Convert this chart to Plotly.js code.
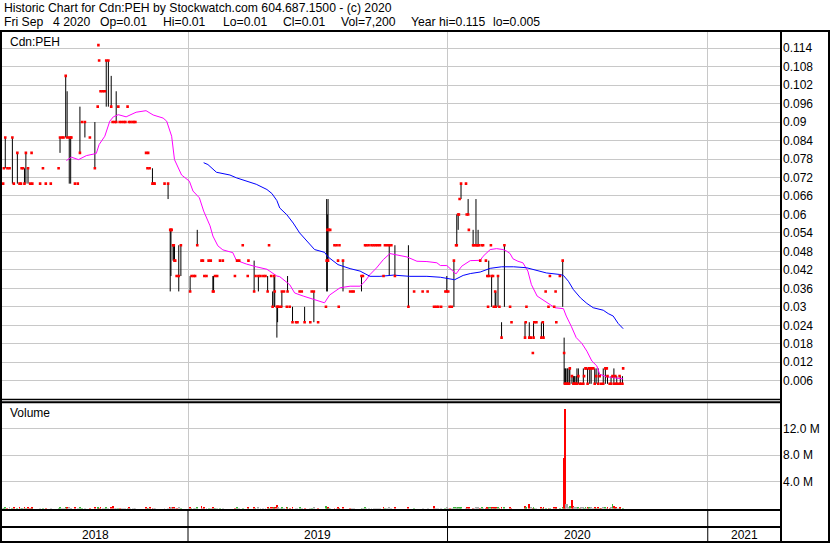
<!DOCTYPE html>
<html><head><meta charset="utf-8">
<script src="https://cdn.plot.ly/plotly-3.0.1.min.js"></script>
<style>html,body{margin:0;padding:0;background:#fff;}#chart{width:830px;height:543px;}</style>
</head><body><div id="chart"></div>
<script>
// ---------- DATA ----------
const dates = [
'2018-04-16','2018-04-17','2018-04-19','2018-04-22','2018-04-25','2018-04-29','2018-05-01','2018-05-06','2018-05-09','2018-05-11',
'2018-05-12','2018-05-14','2018-05-16','2018-05-18','2018-05-21','2018-05-24','2018-05-26','2018-05-27','2018-06-07','2018-06-11',
'2018-06-15','2018-06-22','2018-07-03','2018-07-05','2018-07-08','2018-07-10','2018-07-13','2018-07-15','2018-07-18','2018-07-20',
'2018-07-21','2018-07-26','2018-07-30','2018-08-02','2018-08-05','2018-08-09','2018-08-16','2018-08-23','2018-08-27','2018-08-28',
'2018-08-29','2018-08-31','2018-09-03','2018-09-06','2018-09-08','2018-09-11','2018-09-15','2018-09-17','2018-09-20','2018-09-22',
'2018-09-25','2018-09-27','2018-09-30','2018-10-03','2018-10-05','2018-10-08','2018-10-10','2018-10-12','2018-10-15','2018-10-17',
'2018-10-19','2018-11-03','2018-11-05','2018-11-06','2018-11-08','2018-11-12','2018-11-14','2018-11-15','2018-11-29','2018-12-04',
'2018-12-07','2018-12-08','2018-12-09','2018-12-11','2018-12-12','2018-12-13','2018-12-14','2018-12-16','2018-12-19','2018-12-22',
'2019-01-04','2019-01-06','2019-01-09','2019-01-11','2019-01-14','2019-01-20','2019-01-22','2019-01-24','2019-01-27','2019-01-30',
'2019-02-02','2019-02-05','2019-02-06','2019-02-08','2019-02-11','2019-02-15','2019-02-19','2019-03-08','2019-03-11','2019-03-14',
'2019-03-19','2019-03-26','2019-03-27','2019-04-04','2019-04-06','2019-04-10','2019-04-13','2019-04-17','2019-04-20','2019-04-23',
'2019-04-25','2019-04-28','2019-04-30','2019-05-02','2019-05-03','2019-05-06','2019-05-07','2019-05-09','2019-05-12','2019-05-13',
'2019-05-16','2019-05-20','2019-05-21','2019-05-24','2019-05-28','2019-06-02','2019-06-04','2019-06-07','2019-06-10','2019-06-14',
'2019-06-22','2019-06-24','2019-06-27','2019-07-03','2019-07-14','2019-07-15','2019-07-16','2019-07-17','2019-07-18','2019-07-20',
'2019-07-26','2019-07-29','2019-07-31','2019-08-01','2019-08-02','2019-08-07','2019-08-17','2019-08-20','2019-08-22','2019-09-02',
'2019-09-04','2019-09-07','2019-09-09','2019-09-12','2019-09-16','2019-09-19','2019-09-22','2019-09-25','2019-09-28','2019-10-03',
'2019-10-05','2019-10-08','2019-10-11','2019-10-14','2019-10-19','2019-11-07','2019-11-15','2019-11-27','2019-12-04','2019-12-13',
'2019-12-16','2019-12-19','2019-12-23','2019-12-29','2019-12-31','2020-01-02','2020-01-04','2020-01-07','2020-01-10','2020-01-13',
'2020-01-14','2020-01-16','2020-01-17','2020-01-18','2020-01-20','2020-01-27','2020-01-28','2020-01-30','2020-01-31','2020-02-06',
'2020-02-07','2020-02-10','2020-02-11','2020-02-13','2020-02-14','2020-02-16','2020-02-18','2020-02-20','2020-02-24','2020-02-26',
'2020-02-27','2020-02-28','2020-03-02','2020-03-03','2020-03-05','2020-03-06','2020-03-08','2020-03-09','2020-03-12','2020-03-14',
'2020-03-17','2020-03-21','2020-03-29','2020-03-31','2020-04-19','2020-04-20','2020-04-21','2020-04-25','2020-04-27','2020-04-30',
'2020-05-01','2020-05-02','2020-05-05','2020-05-12','2020-05-14','2020-05-15','2020-05-18','2020-05-22','2020-05-24','2020-05-30',
'2020-06-01','2020-06-02','2020-06-07','2020-06-11','2020-06-13','2020-06-14','2020-06-15','2020-06-17','2020-06-18','2020-06-20',
'2020-06-21','2020-06-24','2020-06-26','2020-06-27','2020-06-28','2020-06-30','2020-07-01','2020-07-03','2020-07-05','2020-07-07',
'2020-07-10','2020-07-11','2020-07-13','2020-07-14','2020-07-16','2020-07-18','2020-07-19','2020-07-21','2020-07-24','2020-07-26',
'2020-07-28','2020-07-31','2020-08-02','2020-08-04','2020-08-07','2020-08-10','2020-08-12','2020-08-13','2020-08-16','2020-08-18',
'2020-08-20','2020-08-22','2020-08-24','2020-08-25','2020-08-26','2020-08-29','2020-08-30','2020-08-31','2020-09-03','2020-09-04'];

const highs = [
.07,.075,.085,.075,.075,.085,.07,.08,.07,.07,
.075,.075,.075,.08,.075,.07,.08,.07,.07,.075,
.07,.07,.075,.085,.085,.085,.105,.10,.085,.085,
.085,.07,.07,.095,.09,.09,.085,.09,.095,.115,
.11,.10,.10,.10,.11,.11,.105,.09,.09,.10,
.095,.09,.09,.09,.09,.095,.09,.09,.09,.09,
.09,.08,.075,.08,.075,.075,.07,.07,.07,.07,
.055,.055,.055,.05,.05,.05,.045,.04,.05,.05,
.04,.04,.04,.04,.055,.045,.045,.04,.04,.045,
.045,.04,.04,.04,.04,.045,.045,.04,.045,.045,
.05,.04,.045,.045,.04,.04,.04,.04,.04,.04,
.05,.04,.035,.04,.04,.03,.03,.03,.03,.035,
.035,.03,.04,.03,.03,.025,.025,.035,.035,.03,
.025,.035,.035,.025,.03,.065,.06,.065,.055,.055,
.05,.05,.045,.03,.05,.045,.035,.035,.035,.04,
.04,.05,.05,.05,.05,.05,.05,.05,.05,.04,
.05,.05,.05,.05,.05,.05,.035,.035,.035,.03,
.03,.03,.03,.035,.04,.035,.03,.03,.045,.05,
.06,.06,.06,.065,.07,.07,.06,.065,.055,.055,
.05,.065,.05,.055,.05,.045,.05,.05,.045,.04,
.03,.045,.05,.04,.04,.03,.035,.035,.04,.03,
.025,.05,.03,.025,.025,.025,.03,.025,.02,.015,
.025,.025,.025,.025,.025,.025,.035,.03,.04,.03,
.035,.025,.04,.045,.02,.01,.01,.01,.01,.01,
.01,.0075,.0075,.0075,.0075,.0075,.01,.01,.005,.005,
.01,.0075,.01,.01,.01,.01,.01,.01,.01,.01,
.01,.01,.0075,.005,.01,.01,.01,.0075,.005,.0075,
.0075,.01,.0075,.005,.0075,.005,.0075,.0075,.0075,.01];

const lows = [
.07,.075,.075,.075,.075,.07,.07,.07,.07,.07,
.075,.075,.07,.07,.07,.07,.08,.07,.07,.075,
.07,.07,.075,.08,.085,.085,.085,.085,.07,.07,
.085,.07,.07,.08,.09,.085,.085,.075,.095,.115,
.11,.10,.10,.10,.095,.095,.095,.09,.09,.09,
.095,.09,.09,.09,.09,.095,.09,.09,.09,.09,
.09,.08,.075,.08,.075,.07,.07,.07,.07,.065,
.035,.04,.055,.045,.045,.045,.045,.04,.035,.04,
.035,.04,.04,.04,.05,.045,.045,.04,.04,.045,
.045,.035,.035,.04,.04,.045,.045,.04,.045,.045,
.05,.04,.045,.035,.04,.035,.04,.04,.04,.035,
.05,.04,.03,.03,.03,.02,.025,.03,.03,.03,
.035,.03,.035,.03,.025,.025,.025,.035,.035,.025,
.025,.035,.025,.025,.03,.035,.035,.045,.055,.055,
.05,.05,.045,.03,.05,.035,.035,.035,.035,.035,
.04,.05,.05,.05,.05,.05,.05,.05,.05,.04,
.05,.05,.04,.05,.04,.03,.035,.035,.035,.03,
.03,.03,.03,.035,.035,.035,.03,.03,.03,.05,
.05,.055,.06,.065,.065,.07,.06,.06,.055,.05,
.05,.05,.05,.05,.05,.045,.05,.05,.045,.04,
.03,.04,.05,.03,.04,.03,.03,.03,.03,.03,
.02,.03,.03,.025,.02,.025,.03,.02,.02,.015,
.02,.025,.025,.02,.025,.02,.035,.03,.04,.03,
.035,.025,.04,.03,.005,.005,.005,.005,.005,.005,
.005,.005,.005,.005,.005,.005,.005,.005,.005,.005,
.005,.0075,.01,.01,.005,.01,.005,.005,.01,.005,
.005,.005,.0075,.005,.005,.005,.01,.005,.005,.005,
.0075,.005,.0075,.005,.005,.005,.0075,.005,.005,.01];

const closes = [
.07,.075,.085,.075,.075,.085,.07,.08,.07,.07,
.075,.075,.07,.08,.075,.07,.08,.07,.07,.075,
.07,.07,.075,.085,.085,.085,.105,.085,.085,.085,
.085,.07,.07,.08,.09,.09,.085,.075,.095,.115,
.11,.10,.10,.10,.11,.11,.095,.09,.09,.09,
.095,.09,.09,.09,.09,.095,.09,.09,.09,.09,
.09,.08,.075,.08,.075,.07,.07,.07,.07,.07,
.055,.055,.055,.05,.05,.045,.045,.04,.04,.05,
.035,.04,.04,.04,.05,.045,.045,.04,.04,.045,
.045,.035,.035,.04,.04,.045,.045,.04,.045,.045,
.05,.04,.045,.035,.04,.04,.04,.04,.04,.035,
.05,.04,.03,.04,.035,.03,.03,.03,.03,.035,
.035,.03,.035,.03,.025,.025,.025,.035,.035,.025,
.025,.035,.035,.025,.03,.045,.055,.045,.055,.055,
.05,.05,.045,.03,.05,.045,.035,.035,.035,.04,
.04,.05,.05,.05,.05,.05,.05,.05,.05,.04,
.05,.05,.05,.05,.04,.03,.035,.035,.035,.03,
.03,.03,.03,.035,.035,.035,.03,.03,.045,.05,
.05,.06,.06,.065,.07,.07,.06,.06,.055,.05,
.05,.05,.05,.05,.05,.045,.05,.05,.045,.04,
.03,.04,.05,.04,.04,.03,.035,.03,.04,.03,
.02,.05,.03,.025,.02,.025,.03,.02,.02,.015,
.02,.025,.025,.02,.025,.02,.035,.03,.04,.03,
.035,.025,.04,.045,.015,.005,.005,.005,.005,.005,
.01,.0075,.005,.005,.005,.005,.005,.0075,.005,.005,
.005,.0075,.01,.01,.005,.01,.01,.01,.01,.005,
.0075,.005,.0075,.005,.005,.01,.01,.0075,.005,.005,
.0075,.005,.0075,.005,.005,.005,.0075,.005,.005,.01];

// volume in thousands of shares
const volumesK = [
150,120,200,100,180,150,250,120,200,100,
150,80,200,150,250,120,100,180,100,150,
100,120,150,200,100,150,300,250,200,150,
100,200,150,250,120,150,100,200,150,250,
150,200,120,100,200,150,250,400,100,150,
120,100,150,100,120,150,200,100,120,100,
150,200,150,100,200,150,100,120,100,150,
300,250,150,200,150,200,100,150,200,150,
200,150,100,120,250,400,150,200,120,150,
100,200,150,100,120,150,100,150,200,120,
150,200,150,250,150,200,120,150,100,200,
150,200,250,200,300,500,250,150,100,200,
150,200,250,150,200,100,150,200,100,150,
100,150,200,150,350,300,250,200,150,100,
150,100,200,150,100,200,150,100,120,150,
100,200,150,100,120,150,100,120,100,200,
150,100,200,120,250,200,150,100,120,350,
150,100,120,150,200,100,150,100,250,200,
250,200,150,200,300,150,200,150,200,150,
100,250,150,200,100,150,200,100,150,200,
250,300,200,250,150,200,150,200,250,150,
300,250,200,150,450,200,250,600,200,150,
200,150,100,200,150,200,150,100,150,200,
150,200,150,300,7600,14900,700,650,250,200,
400,1300,350,250,200,150,200,250,150,200,
250,150,200,150,250,200,150,200,150,200,
150,200,150,100,200,250,150,200,150,200,
600,400,150,200,150,100,150,200,150,7.2];

// moving averages (magenta = short, blue = long)
const maShortDates = ['2018-07-14','2018-07-21','2018-07-31','2018-08-11','2018-08-25','2018-08-29','2018-09-06','2018-09-13','2018-09-18','2018-09-25',
'2018-10-06','2018-10-20','2018-11-03','2018-11-13','2018-11-27','2018-12-02','2018-12-09','2018-12-13','2018-12-23','2019-01-03',
'2019-01-08','2019-01-17','2019-01-23','2019-02-01','2019-02-05','2019-02-12','2019-02-19','2019-03-05','2019-03-10','2019-03-24',
'2019-04-07','2019-04-22','2019-05-06','2019-05-10','2019-05-24','2019-05-31','2019-06-12','2019-06-26','2019-07-12','2019-07-19',
'2019-08-03','2019-08-17','2019-08-31','2019-09-07','2019-09-14','2019-09-23','2019-10-03','2019-10-12','2019-10-22','2019-11-05',
'2019-11-19','2019-12-03','2019-12-17','2019-12-22','2019-12-31','2020-01-07','2020-01-13','2020-01-21','2020-02-02','2020-02-16',
'2020-02-20','2020-03-01','2020-03-10','2020-03-19','2020-03-24','2020-03-29','2020-04-02','2020-04-09','2020-04-16','2020-04-23',
'2020-04-28','2020-05-06','2020-05-15','2020-05-22','2020-05-31','2020-06-12','2020-06-16','2020-06-23','2020-06-30','2020-07-08',
'2020-07-15','2020-07-22','2020-07-29','2020-08-02','2020-08-12','2020-08-21','2020-09-04'];
const maShort = [.0775,.0786,.0778,.0791,.0798,.0827,.0854,.0903,.0917,.0924,
.0917,.0932,.0937,.0923,.0913,.0903,.0854,.0778,.0728,.0708,
.0676,.0654,.0611,.0563,.053,.0498,.0485,.0476,.0451,.0439,
.043,.0422,.040,.0398,.0372,.0345,.0335,.0324,.0313,.0338,
.0362,.0367,.0367,.0383,.0405,.0426,.0454,.0473,.0468,.0462,
.0448,.0447,.0443,.0434,.0434,.0419,.0407,.0432,.045,.0451,
.0464,.0486,.0489,.0486,.0481,.0473,.0456,.0448,.0443,.0416,
.0372,.0335,.0322,.0311,.0297,.0294,.027,.0237,.020,.0181,
.0156,.0124,.0108,.0081,.0073,.007,.0066];

const maLongDates = ['2019-01-23','2019-01-29','2019-02-10','2019-03-01','2019-03-10','2019-03-24','2019-04-07','2019-04-22','2019-04-29','2019-05-06',
'2019-05-10','2019-05-20','2019-05-29','2019-06-07','2019-06-17','2019-06-28','2019-07-12','2019-07-17','2019-07-31','2019-08-17',
'2019-08-31','2019-09-14','2019-09-28','2019-10-17','2019-11-09','2019-12-03','2019-12-22','2019-12-31','2020-01-11','2020-01-23',
'2020-02-02','2020-02-16','2020-03-01','2020-03-17','2020-04-03','2020-04-21','2020-05-01','2020-05-19','2020-06-07','2020-06-12',
'2020-06-19','2020-06-26','2020-07-06','2020-07-15','2020-07-24','2020-08-07','2020-08-14','2020-08-21','2020-08-28','2020-09-04'];
const maLong = [.0768,.0762,.0737,.0728,.0719,.0708,.0698,.0681,.0668,.0645,
.0621,.0599,.0572,.054,.0513,.0486,.0477,.0462,.0437,.0424,
.0416,.0399,.0399,.0403,.0399,.0399,.0396,.0392,.0388,.0402,
.0408,.0413,.0425,.043,.043,.0427,.0421,.041,.0405,.0402,
.0383,.0356,.0329,.0311,.0297,.0289,.0278,.027,.0246,.0229];

const priceTicks = [0.006,0.012,0.018,0.024,0.03,0.036,0.042,0.048,0.054,0.06,0.066,0.072,0.078,0.084,0.09,0.096,0.102,0.108,0.114];
const priceTickText = ['0.006','0.012','0.018','0.024','0.03','0.036','0.042','0.048','0.054','0.06','0.066','0.072','0.078','0.084','0.09','0.096','0.102','0.108','0.114'];
const volTicks = [4e6, 8e6, 12e6];
const volTickText = ['4.0 M','8.0 M','12.0 M'];
const yearLabels = ['2018','2019','2020','2021'];
const yearStarts = ['2019-01-01','2020-01-01','2021-01-01'];
const xRange = ['2018-04-14 09:36','2021-04-15 10:00'];

// header quote line, split into its fields
const quoteFields = ['Fri Sep', '4 2020', 'Op=0.01', 'Hi=0.01', 'Lo=0.01', 'Cl=0.01', 'Vol=7,200', 'Year hi=0.115', 'lo=0.005'];

// ---------- BUILD ----------
const barX = [], barY = [];
dates.forEach((d, i) => { if (highs[i] > lows[i]) { barX.push(d, d, null); barY.push(lows[i], highs[i], null); } });
const volColors = closes.map((c, i) => i === 0 ? '#a8a8a8' : (c > closes[i-1] ? '#3cb43c' : (c < closes[i-1] ? '#ff0000' : '#a8a8a8')));
const vols = volumesK.map(v => v * 1000);

const traces = [
  {type:'bar', x:dates, y:vols, xaxis:'x', yaxis:'y2', marker:{color:volColors, line:{width:0}}, width:86400000*2.6, hoverinfo:'skip'},
  {type:'scatter', mode:'lines', x:barX, y:barY, xaxis:'x', yaxis:'y', line:{color:'#000', width:1}, connectgaps:false, hoverinfo:'skip'},
  {type:'scatter', mode:'lines', x:maShortDates, y:maShort, xaxis:'x', yaxis:'y', line:{color:'#ff00ff', width:1}, hoverinfo:'skip'},
  {type:'scatter', mode:'lines', x:maLongDates, y:maLong, xaxis:'x', yaxis:'y', line:{color:'#0000ff', width:1}, hoverinfo:'skip'},
  {type:'scatter', mode:'markers', x:dates, y:closes, xaxis:'x', yaxis:'y', marker:{symbol:'square', size:2.6, color:'#ff0000', line:{width:0}}, hoverinfo:'skip'}
];

// pixel -> paper helpers (plot area: x 2..782, y 30..541)
const PX = p => (p - 2) / 780;
const PY = p => (541 - p) / 511;
const hline = (y, x0, x1, w) => ({type:'line', xref:'paper', yref:'paper', x0:PX(x0), x1:PX(x1), y0:PY(y), y1:PY(y), line:{color:'#000', width:w}});
const vline = (x, y0, y1, w) => ({type:'line', xref:'paper', yref:'paper', x0:PX(x), x1:PX(x), y0:PY(y0), y1:PY(y1), line:{color:'#000', width:w}});

const shapes = [
  hline(31, 0, 830, 2),
  hline(399.5, 0, 782, 1.5),
  hline(402.3, 0, 782, 2),
  hline(510, 0, 782, 2),
  hline(527, 0, 782, 2),
  hline(542, 0, 830, 2),
  vline(1, 30, 543, 2),
  vline(781, 30, 541, 2),
  vline(829, 30, 543, 2)
];
yearStarts.forEach(d => shapes.push({type:'line', xref:'x', yref:'paper', x0:d, x1:d, y0:PY(510), y1:PY(542), line:{color:'#000', width:1}}));

const bounds = [xRange[0]].concat(yearStarts, [xRange[1]]).map(s => new Date(s.replace(' ', 'T') + (s.length > 10 ? ':00Z' : 'T00:00:00Z')).getTime());
const font = {family:'"Liberation Sans", Arial, sans-serif', size:12, color:'#000'};
const hfont = {family:'"Liberation Sans", Arial, sans-serif', size:12.2, color:'#000'};
const annotations = [
  {xref:'paper', yref:'paper', x:PX(2), y:PY(8), xanchor:'left', yanchor:'middle', showarrow:false, font:hfont,
   text:'Historic Chart for Cdn:PEH by Stockwatch.com 604.687.1500 - (c) 2020'},
  {xref:'paper', yref:'paper', x:PX(8), y:PY(41.5), xanchor:'left', yanchor:'middle', showarrow:false, font:font, text:'Cdn:PEH'},
  {xref:'paper', yref:'paper', x:PX(8), y:PY(413), xanchor:'left', yanchor:'middle', showarrow:false, font:font, text:'Volume'}
];
// left pixel of each header field, as laid out in the reference
const fieldLeft = [2, 50.5, 97.5, 161, 221, 281, 339, 409, 490.5];
quoteFields.forEach((t, i) => annotations.push({xref:'paper', yref:'paper', x:PX(fieldLeft[i]), y:PY(22), xanchor:'left', yanchor:'middle', showarrow:false, font:hfont, text:t}));
yearLabels.forEach((t, i) => {
  const mid = new Date((bounds[i] + bounds[i+1]) / 2).toISOString().replace('T', ' ').slice(0, 19);
  annotations.push({xref:'x', yref:'paper', x:mid, y:PY(535), xanchor:'center', yanchor:'middle', showarrow:false, font:font, text:t});
});

const layout = {
  width:830, height:543,
  margin:{l:2, r:48, t:30, b:2, pad:0},
  paper_bgcolor:'#fff', plot_bgcolor:'#fff',
  showlegend:false, font:font, bargap:0,
  xaxis:{type:'date', range:xRange, tickvals:yearStarts, showticklabels:false, ticks:'', showgrid:true,
         gridcolor:'#c8c8c8', gridwidth:1, zeroline:false, showline:false, anchor:'y2', fixedrange:true},
  yaxis:{domain:[PY(399.2), 1], range:[0, 0.1199], side:'right', anchor:'x', tickvals:priceTicks, ticktext:priceTickText,
         showgrid:true, gridcolor:'#c8c8c8', gridwidth:1, ticks:'', zeroline:false, showline:false, tickfont:font, automargin:false, fixedrange:true},
  yaxis2:{domain:[PY(508.5), PY(402.5)], range:[0, 15.88e6], side:'right', anchor:'x', tickvals:volTicks, ticktext:volTickText,
         showgrid:true, gridcolor:'#c8c8c8', gridwidth:1, ticks:'', zeroline:false, showline:false, tickfont:font, automargin:false, fixedrange:true},
  shapes:shapes, annotations:annotations
};

Plotly.newPlot('chart', traces, layout, {staticPlot:true, displayModeBar:false});
</script>
</body></html>
